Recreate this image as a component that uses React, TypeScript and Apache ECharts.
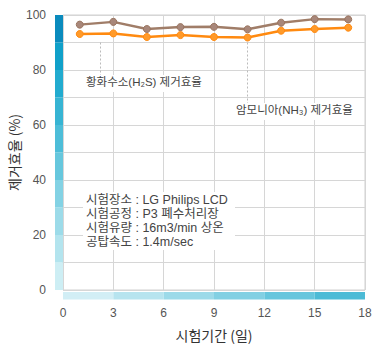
import React, { useEffect, useRef } from "react";
import * as echarts from "echarts";

const days = [1, 3, 5, 7, 9, 11, 13, 15, 17];
const h2sEff = [96.5, 97.5, 94.9, 95.6, 95.7, 94.8, 97.2, 98.5, 98.4];
const nh3Eff = [93.1, 93.3, 92.0, 92.7, 92.0, 91.8, 94.3, 94.9, 95.4];

const yBandColors = ["#cdeef4", "#b3e4ee", "#9cdbe9", "#83d2e4", "#66c7dd", "#4dbdd8", "#37b4d3", "#22abcf", "#10a0c9", "#0a8bbd"];
const xBandColors = ["#d2eef5", "#b7e4ef", "#9cdae9", "#82d0e3", "#66c6dd", "#4cbbd6"];

const infoLines = [
  "시험장소 : LG Philips LCD",
  "시험공정 : P3 폐수처리장",
  "시험유량 : 16m3/min 상온",
  "공탑속도 : 1.4m/sec",
];

const KFONT = "'Noto Sans CJK KR', 'Noto Sans', sans-serif";
const NFONT = "'Liberation Sans', Arial, sans-serif";
const MFONT = "'Liberation Sans', 'Noto Sans CJK KR', sans-serif";

export default function App() {
  const ref = useRef<HTMLDivElement>(null);
  useEffect(() => {
    if (!ref.current) return;
    const chart = echarts.init(ref.current, undefined, { renderer: "svg" });
    const yBands = yBandColors.map((c, i) => [i * 10, i * 10 + 10, i]);
    const xBands = xBandColors.map((c, i) => [i * 3, i * 3 + 3, i]);
    const option: any = {
      animation: false,
      backgroundColor: "#ffffff",
      grid: {
        left: 63,
        right: 16,
        top: 15,
        bottom: 66,
        show: true,
        borderColor: "#d0d0d0",
        borderWidth: 1,
        containLabel: false,
        outerBoundsMode: "none",
      },
      xAxis: {
        type: "value",
        min: 0,
        max: 18,
        interval: 3,
        axisLine: { show: false },
        axisTick: { show: false },
        axisLabel: { color: "#555", fontSize: 12, fontFamily: NFONT, margin: 17 },
        splitLine: { show: true, lineStyle: { color: "#d6d6d6", width: 1 } },
        name: "시험기간 (일)",
        nameLocation: "middle",
        nameGap: 38,
        nameMoveOverlap: false,
        nameTextStyle: { color: "#333", fontSize: 14, fontFamily: KFONT },
      },
      yAxis: {
        type: "value",
        min: 0,
        max: 100,
        interval: 10,
        axisLine: { show: false },
        axisTick: { show: false },
        axisLabel: {
          color: "#555",
          fontSize: 12,
          fontFamily: NFONT,
          margin: 17,
          formatter: (v: number) => (v % 20 === 0 ? String(v) : ""),
        },
        splitLine: { show: true, lineStyle: { color: "#d6d6d6", width: 1 } },
        name: "제거효율 (%)",
        nameLocation: "middle",
        nameGap: 42,
        nameRotate: 90,
        nameMoveOverlap: false,
        nameTextStyle: { color: "#333", fontSize: 14, fontFamily: KFONT },
      },
      series: [
        {
          type: "custom",
          clip: false,
          z: 1,
          data: yBands,
          renderItem: (params: any, api: any) => {
            const lo = api.value(0);
            const hi = api.value(1);
            const idx = api.value(2);
            const p1 = api.coord([0, hi]);
            const p0 = api.coord([0, lo]);
            return {
              type: "rect",
              shape: { x: p1[0] - 8, y: p1[1], width: 8, height: p0[1] - p1[1] },
              style: { fill: yBandColors[idx] },
            };
          },
        },
        {
          type: "custom",
          clip: false,
          z: 1,
          data: xBands,
          renderItem: (params: any, api: any) => {
            const lo = api.value(0);
            const hi = api.value(1);
            const idx = api.value(2);
            const p0 = api.coord([lo, 0]);
            const p1 = api.coord([hi, 0]);
            return {
              type: "rect",
              shape: { x: p0[0], y: p0[1] + 2, width: p1[0] - p0[0], height: 7.5 },
              style: { fill: xBandColors[idx] },
            };
          },
        },
        {
          type: "line",
          name: "황화수소",
          data: days.map((d, i) => [d, h2sEff[i]]),
          symbol: "circle",
          symbolSize: 7,
          lineStyle: { color: "#a07d68", width: 2.5 },
          itemStyle: { color: "#a8877a", borderColor: "#9a7560", borderWidth: 1 },
          z: 5,
          markLine: {
            silent: true,
            symbol: "none",
            label: { show: false },
            lineStyle: { color: "#bbbbbb", type: [2, 2], width: 1 },
            data: [
              [{ coord: [2.2, 90] }, { coord: [2.2, 78] }],
              [{ coord: [11, 90] }, { coord: [11, 68] }],
            ],
          },
        },
        {
          type: "line",
          name: "암모니아",
          data: days.map((d, i) => [d, nh3Eff[i]]),
          symbol: "circle",
          symbolSize: 7,
          lineStyle: { color: "#ff8a10", width: 2.5 },
          itemStyle: { color: "#ff9a2a", borderColor: "#ff8a10", borderWidth: 1 },
          z: 4,
        },
      ],
      graphic: [
        { type: "rect", left: 84, top: 75, shape: { width: 116, height: 17 }, style: { fill: "#fff" }, z: 10 },
        { type: "text", left: 86, top: 76, style: { text: "황화수소(H₂S) 제거효율", fill: "#444", font: `11.5px ${MFONT}` }, z: 11 },
        { type: "rect", left: 234, top: 103, shape: { width: 118, height: 17 }, style: { fill: "#fff" }, z: 10 },
        { type: "text", left: 236, top: 104, style: { text: "암모니아(NH₃) 제거효율", fill: "#444", font: `11.5px ${MFONT}` }, z: 11 },
        { type: "rect", left: 83, top: 192, shape: { width: 152, height: 58 }, style: { fill: "#fff" }, z: 10 },
        ...infoLines.map((t, i) => ({
          type: "text",
          left: 86,
          top: 193 + i * 14.3,
          style: { text: t, fill: "#444", font: `12.5px ${MFONT}`, lineHeight: 13 },
          z: 11,
        })),
      ],
    };
    chart.setOption(option);
    return () => chart.dispose();
  }, []);
  return <div ref={ref} style={{ position: "absolute", left: 0, top: 0, width: 381, height: 356 }} />;
}
